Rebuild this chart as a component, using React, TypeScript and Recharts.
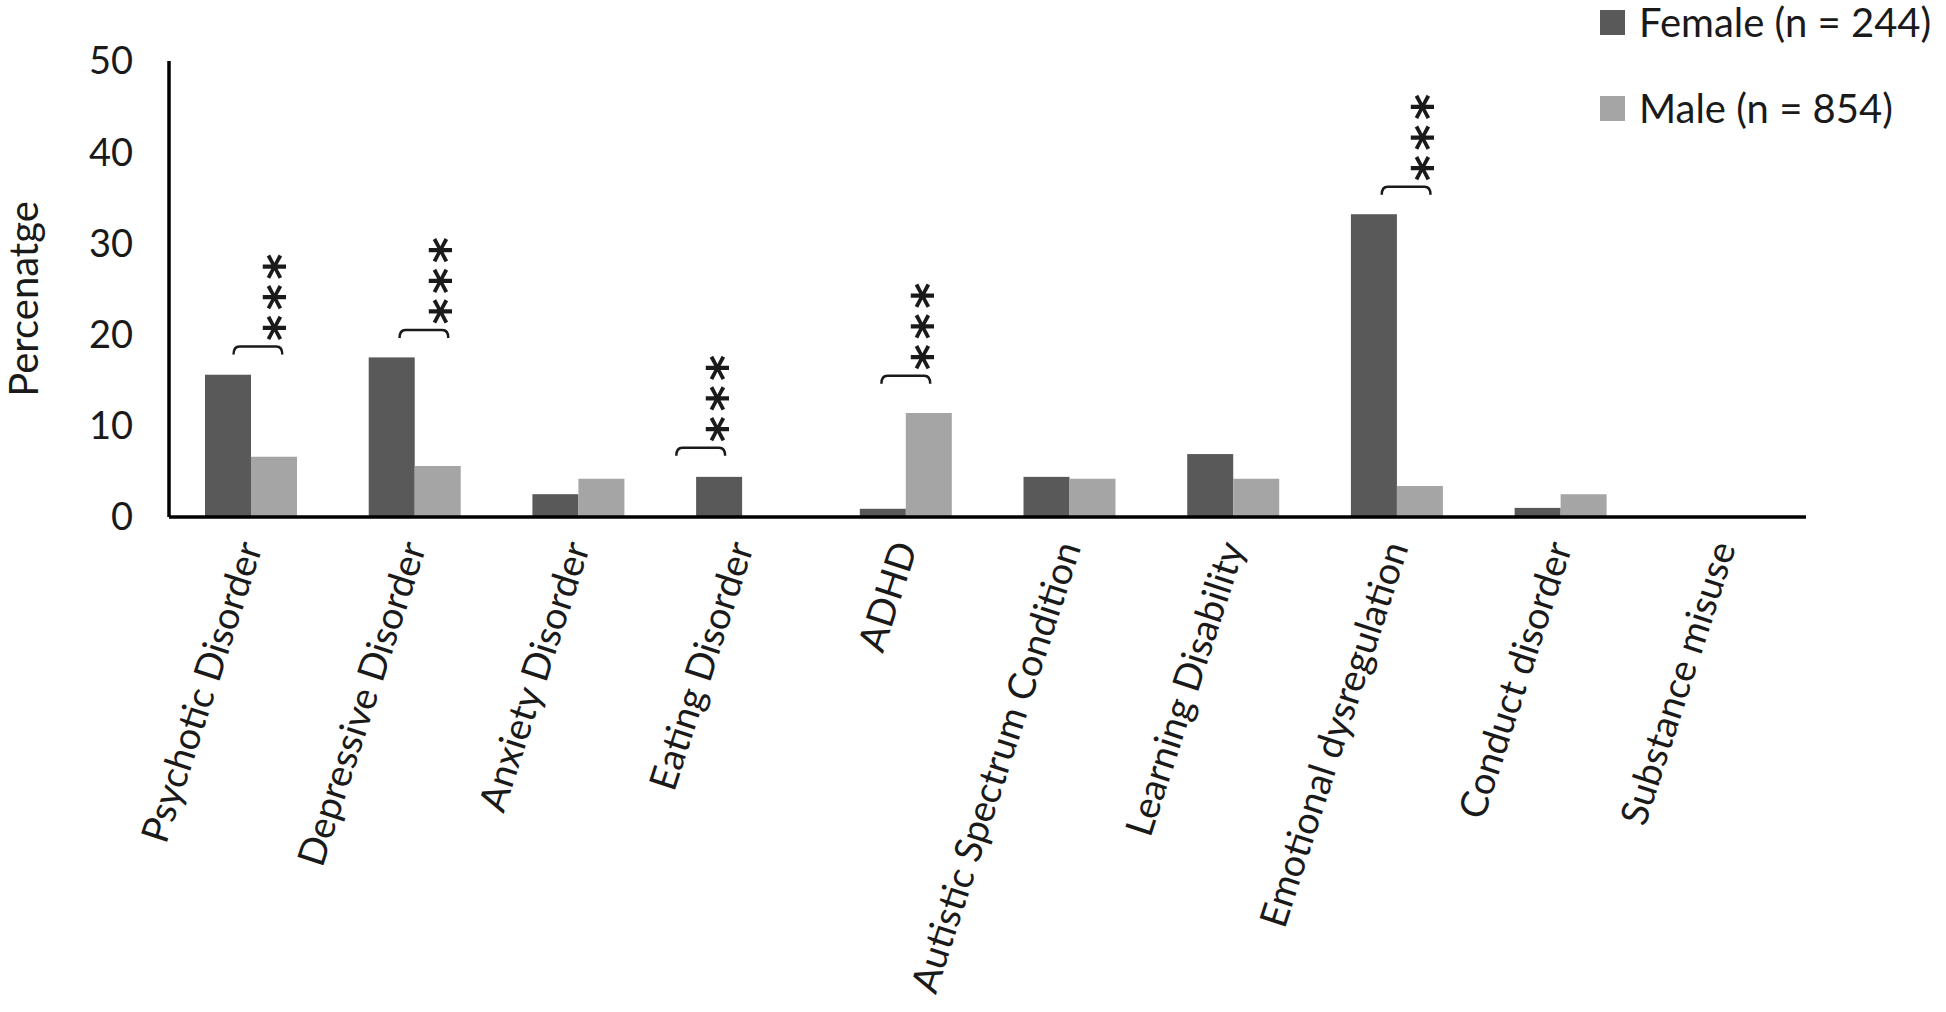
import { BarChart, Bar, XAxis, YAxis } from 'recharts';

const FEMALE_COLOR = '#595959';
const MALE_COLOR = '#a5a5a5';
const TEXT_COLOR = '#1a1a1a';
const FONT = 'Lato, "Open Sans", sans-serif';

const categories = [
  'Psychotic Disorder',
  'Depressive Disorder',
  'Anxiety Disorder',
  'Eating Disorder',
  'ADHD',
  'Autistic Spectrum Condition',
  'Learning Disability',
  'Emotional dysregulation',
  'Conduct disorder',
  'Substance misuse',
];
const femaleValues = [15.6, 17.5, 2.5, 4.4, 0.9, 4.4, 6.9, 33.2, 1.0, 0];
const maleValues = [6.6, 5.6, 4.2, 0, 11.4, 4.2, 4.2, 3.4, 2.5, 0];
const yTicks = [0, 10, 20, 30, 40, 50];

// significance markers: bracket height (in %), null = none
const sigLevels = [18.7, 20.5, null, 7.6, 15.5, null, null, 36.2, null, null];
const sigText = '***';
// bracket shift, in bar widths (hand placed in the original)
const sigShift = [0, 0.05, 0, -1.05, -0.15, 0, 0, 0.05, 0, 0];

const seriesNames = ['Female (n = 244)', 'Male (n = 854)'];

const data = categories.map((name, i) => ({
  name,
  female: femaleValues[i],
  male: maleValues[i],
}));

function FemaleShape(props: any) {
  const { x, y, width, height, index, fill } = props;
  const rect = <rect x={x} y={y} width={width} height={height} fill={fill} />;
  const level = sigLevels[index];
  if (level == null || !femaleValues[index]) return rect;
  const ppu = height / femaleValues[index];
  const by = y + height - level * ppu;
  const shift = sigShift[index] * width;
  const x1 = x + 0.62 * width + shift;
  const x2 = x + 1.68 * width + shift;
  const ax = x2 - 0.22 * width;
  const fs = 50;
  // stacked asterisks, written bottom to top
  const tx = ax + 0.56 * fs;
  const ty = by - 5.5;
  return (
    <g>
      {rect}
      <path
        d={`M${x1},${by + 8} Q${x1},${by} ${x1 + 6},${by} L${x2 - 6},${by} Q${x2},${by} ${x2},${by + 8}`}
        fill="none"
        stroke={TEXT_COLOR}
        strokeWidth={2.5}
      />
      <text
        x={tx}
        y={ty}
        transform={`rotate(-90 ${tx} ${ty})`}
        textAnchor="start"
        fontSize={fs}
        fontWeight="bold"
        letterSpacing={4.5}
        fontFamily="DejaVu Sans"
        fill={TEXT_COLOR}
      >
        {sigText}
      </text>
    </g>
  );
}

function XTick(props: any) {
  const { x, y, payload } = props;
  return (
    <text
      transform={`translate(${x + 12}, ${y + 30}) rotate(-72)`}
      textAnchor="end"
      fontSize={38}
      fontFamily={FONT}
      fill={TEXT_COLOR}
    >
      {payload.value}
    </text>
  );
}

function YTitle(props: any) {
  const vb = props.viewBox;
  const cx = vb.x - 26;
  const cy = vb.y + vb.height / 2 + 10;
  return (
    <text
      x={cx}
      y={cy}
      transform={`rotate(-90 ${cx} ${cy})`}
      textAnchor="middle"
      dominantBaseline="central"
      fontSize={40}
      fontFamily={FONT}
      fill={TEXT_COLOR}
    >
      Percenatge
    </text>
  );
}

export default function App() {
  return (
    <div style={{ position: 'absolute', left: 0, top: 0, width: 1946, height: 1012, background: '#fff' }}>
      <BarChart
        width={1946}
        height={1012}
        data={data}
        margin={{ top: 61, right: 140, left: 49, bottom: 465 }}
        barCategoryGap="22%"
        barGap={0}
      >
        <XAxis
          dataKey="name"
          height={30}
          interval={0}
          tickLine={false}
          tickSize={0}
          tickMargin={0}
          axisLine={{ stroke: '#000', strokeWidth: 3.5 }}
          tick={<XTick />}
        />
        <YAxis
          width={120}
          domain={[0, 50]}
          ticks={yTicks}
          tickLine={false}
          tickMargin={30}
          axisLine={{ stroke: '#000', strokeWidth: 3.5 }}
          tick={{ fontSize: 38, fontFamily: FONT, fill: TEXT_COLOR }}
          label={<YTitle />}
        />
        <Bar dataKey="female" name={seriesNames[0]} fill={FEMALE_COLOR} shape={<FemaleShape />} isAnimationActive={false} />
        <Bar dataKey="male" name={seriesNames[1]} fill={MALE_COLOR} isAnimationActive={false} />
      </BarChart>
      {/* legend, top right */}
      <div style={{ position: 'absolute', left: 1600, top: 0, fontFamily: FONT, fontSize: 40, color: TEXT_COLOR, whiteSpace: 'nowrap' }}>
        {seriesNames.map((n, i) => (
          <div key={n} style={{ display: 'flex', alignItems: 'center', height: 44, marginTop: i === 0 ? 0 : 42 }}>
            <span style={{ width: 25, height: 25, background: i === 0 ? FEMALE_COLOR : MALE_COLOR, marginRight: 14 }} />
            <span>{n}</span>
          </div>
        ))}
      </div>
    </div>
  );
}
